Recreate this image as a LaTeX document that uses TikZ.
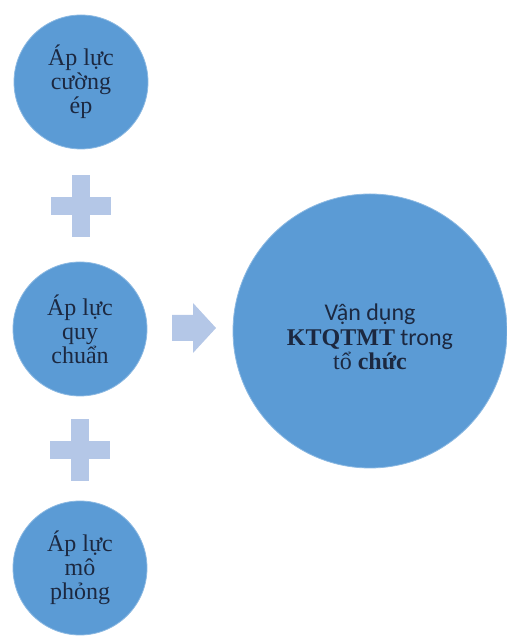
\documentclass[tikz,border=0pt]{standalone}
\usepackage{fontspec}
\setmainfont{Liberation Serif}
\newfontfamily\calib{Carlito}
\definecolor{circblue}{HTML}{5B9BD5}
\definecolor{lightop}{HTML}{B4C7E7}
\definecolor{txtdark}{HTML}{1C2840}
\begin{document}
\begin{tikzpicture}[x=1pt,y=1pt,
  smallcirc/.style={circle,fill=circblue,draw=circblue!70!white,line width=0.8pt,
    minimum size=134pt,inner sep=0pt,align=center,text=txtdark,
    font=\fontsize{24}{24}\selectfont},
  bigcirc/.style={circle,fill=circblue,draw=circblue!70!white,line width=0.8pt,
    minimum size=274pt,inner sep=0pt},
  bigtext/.style={align=center,text=txtdark,inner sep=0pt,
    font=\fontsize{24}{24.5}\selectfont},
  opshape/.style={fill=lightop,draw=none}]
\useasboundingbox (0,0) rectangle (506,636);
\node[smallcirc] (c1) at (81,554) {Áp lực\\cường\\ép};
\node[smallcirc] (c2) at (80,307) {Áp lực\\quy\\chuẩn};
\node[smallcirc] (c3) at (80,68) {Áp lực\\mô\\phỏng};
\node[bigcirc] (big) at (370,305) {};
\node[bigtext] (bigt) at ([yshift=-6pt]big.center) {{\calib Vận dụng}\\\textbf{KTQTMT}{\calib\ trong}\\tổ \textbf{chức}};
% plus 1
\coordinate (p1) at (81,430);
\fill[opshape] ([xshift=-30pt,yshift=-9pt]p1) rectangle ([xshift=30pt,yshift=9pt]p1);
\fill[opshape] ([xshift=-9pt,yshift=-31pt]p1) rectangle ([xshift=9pt,yshift=31pt]p1);
% plus 2
\coordinate (p2) at (80,186);
\fill[opshape] ([xshift=-30pt,yshift=-9pt]p2) rectangle ([xshift=30pt,yshift=9pt]p2);
\fill[opshape] ([xshift=-9pt,yshift=-31pt]p2) rectangle ([xshift=9pt,yshift=31pt]p2);
% arrow
\coordinate (a) at (172,308);
\fill[opshape] ([yshift=-13pt]a) -- ([yshift=13pt]a) -- ([xshift=21pt,yshift=13pt]a)
  -- ([xshift=21pt,yshift=25pt]a) -- ([xshift=44pt]a) -- ([xshift=21pt,yshift=-25pt]a)
  -- ([xshift=21pt,yshift=-13pt]a) -- cycle;
\end{tikzpicture}
\end{document}
